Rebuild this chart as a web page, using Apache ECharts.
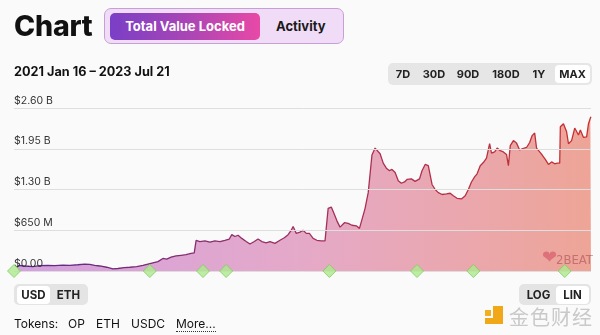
<!DOCTYPE html>
<html>
<head>
<meta charset="utf-8">
<script src="https://cdn.jsdelivr.net/npm/echarts@6/dist/echarts.min.js"></script>
<style>
  html, body { margin:0; padding:0; background:#fafafa; width:600px; height:335px; overflow:hidden; font-family: Inter, Roboto, "Noto Sans", sans-serif; }
  #chart { position:absolute; left:0; top:0; width:600px; height:335px; }
  .abs { position:absolute; }
  #title { left:14px; top:8px; font-size:28.5px; font-weight:800; color:#111; letter-spacing:-0.2px; }
  #pill { left:104px; top:8px; width:240px; height:36px; border:1px solid #c79fd6; border-radius:7px; background:#f1dcf8; box-sizing:border-box; }
  #tvl { left:110px; top:13px; width:150px; height:27px; border-radius:5px; background:linear-gradient(90deg,#7a3fc6,#a845b6 50%,#e849a6); color:#fff; font-size:13px; font-weight:700; text-align:center; line-height:27px; }
  #act { left:276px; top:13px; width:72px; height:27px; color:#1a1a1a; font-size:13px; font-weight:700; line-height:27px; }
  #range { left:14px; top:64px; font-size:12.7px; font-weight:700; color:#111; }
  #btns { left:388px; top:63px; width:204px; height:22px; border-radius:5px; background:#e6e6e6; }
  .b { position:absolute; top:0; height:22px; line-height:22px; font-size:11px; font-weight:700; color:#222; text-align:center; }
  .on { background:#fff; border-radius:4px; top:2px; height:18px; line-height:18px; }
  #cur { left:14px; top:284px; width:74px; height:21px; border-radius:5px; background:#e4e4e4; }
  #scale { left:519px; top:284px; width:72px; height:21px; border-radius:5px; background:#e4e4e4; }
  #tokens { left:14px; top:316px; font-size:12px; color:#111; white-space:nowrap; }
  #tokens span { position:absolute; top:0; }
  #more { border-bottom:1px dotted #333; }
  #logo { left:483px; top:304px; }
</style>
</head>
<body>
<div id="chart"></div>
<div class="abs" id="title">Chart</div>
<div class="abs" id="pill"></div>
<div class="abs" id="tvl">Total Value Locked</div>
<div class="abs" id="act">Activity</div>
<div class="abs" id="range">2021 Jan 16 – 2023 Jul 21</div>
<div class="abs" id="btns">
  <div class="b" style="left:4px;width:22px">7D</div>
  <div class="b" style="left:31px;width:30px">30D</div>
  <div class="b" style="left:65px;width:30px">90D</div>
  <div class="b" style="left:100px;width:36px">180D</div>
  <div class="b" style="left:140px;width:22px">1Y</div>
  <div class="b on" style="left:167px;width:35px">MAX</div>
</div>
<div class="abs" id="cur">
  <div class="b on" style="left:3px;width:33px;font-size:11.5px">USD</div>
  <div class="b" style="left:38px;width:33px;font-size:11.5px;top:0">ETH</div>
</div>
<div class="abs" id="scale">
  <div class="b" style="left:3px;width:33px;font-size:11.5px">LOG</div>
  <div class="b on" style="left:37px;width:33px;font-size:11.5px">LIN</div>
</div>
<div class="abs" id="tokens"><span style="left:0">Tokens:</span><span style="left:54px">OP</span><span style="left:82px">ETH</span><span style="left:117px">USDC</span><span id="more" style="left:162px">More...</span></div>
<div class="abs" id="logo">
  <svg width="110" height="28">
    <rect x="2" y="6" width="6" height="6" fill="#f0b020"/>
    <path d="M10 2 h10 v18 h-18 v-6 h8 z" fill="#f0a818"/>
    <text x="26" y="21" font-family="Noto Sans CJK SC" font-size="20" fill="#c9c9c9" letter-spacing="1">金色财经</text>
  </svg>
</div>
<script>
// days since 2021-01-16
const dayIndex = [0,11,24,35,48,59,72,83,96,107,115,123,131,142,152,160,170,179,190,200,208,216,224,232,238,245,253,261,269,277,282,285,291,299,307,315,323,331,338,342,347,352,358,365,371,378,384,390,397,403,411,419,426,432,437,440,445,451,456,461,466,472,478,485,491,494,496,501,506,510,515,522,528,534,541,546,550,555,560,563,566,571,574,579,584,589,594,598,603,608,613,618,622,629,635,642,646,651,656,659,662,667,672,678,685,691,696,702,709,715,720,725,730,734,739,744,749,754,757,762,766,771,776,781,784,787,792,797,802,806,813,818,822,826,829,834,838,843,848,853,858,862,866,867,872,877,880,885,890,893,896,899,904,909,912,915,916];
// TVL in billions USD
const tvlBillions = [0.09,0.08,0.07,0.085,0.09,0.085,0.095,0.09,0.10,0.11,0.105,0.09,0.08,0.06,0.035,0.04,0.055,0.06,0.07,0.09,0.11,0.13,0.15,0.20,0.19,0.22,0.24,0.25,0.26,0.28,0.29,0.49,0.47,0.48,0.46,0.48,0.47,0.49,0.51,0.58,0.55,0.57,0.52,0.47,0.43,0.47,0.51,0.47,0.45,0.47,0.44,0.49,0.53,0.58,0.65,0.71,0.60,0.62,0.65,0.60,0.60,0.52,0.49,0.48,0.48,0.49,1.00,1.02,0.90,0.80,0.70,0.77,0.76,0.73,0.72,0.68,0.82,1.00,1.25,1.55,1.85,1.96,1.97,1.87,1.72,1.64,1.60,1.62,1.57,1.44,1.40,1.42,1.46,1.47,1.43,1.47,1.60,1.70,1.68,1.65,1.38,1.30,1.25,1.22,1.23,1.24,1.20,1.16,1.15,1.20,1.30,1.42,1.50,1.55,1.68,1.73,1.80,2.03,1.88,1.90,1.96,1.92,1.90,1.86,1.68,2.00,2.08,2.04,1.93,1.95,1.97,2.05,2.16,2.20,1.96,1.90,1.85,1.78,1.70,1.74,1.71,1.72,1.72,2.30,2.35,2.22,2.03,2.08,2.28,2.25,2.17,2.25,2.13,2.14,2.35,2.44,2.46];
// milestone markers, days since 2021-01-16
const milestoneDays = [-6,211,296,333,498,638,728,874];
const yTicks = [0, 0.65, 1.30, 1.95, 2.60];
const yTickLabels = ['$0.00', '$650 M', '$1.30 B', '$1.95 B', '$2.60 B'];

const base = Date.UTC(2021, 0, 16);
const DAY = 86400000;
const lineData = dayIndex.map((d, i) => [base + d * DAY, tvlBillions[i]]);
const msData = milestoneDays.map(d => [base + d * DAY, 0]);

const chart = echarts.init(document.getElementById('chart'), null, {renderer: 'canvas'});
chart.setOption({
  backgroundColor: 'transparent',
  animation: false,
  grid: { left: 14, right: 9, top: 108, bottom: 64 },
  xAxis: {
    type: 'time',
    min: base - 6 * DAY,
    max: base + 916 * DAY,
    axisLine: { show: false }, axisTick: { show: false }, axisLabel: { show: false }, splitLine: { show: false }
  },
  yAxis: {
    type: 'value', min: 0, max: 2.6, interval: 0.65,
    axisLine: { show: false }, axisTick: { show: false },
    splitLine: { lineStyle: { color: '#dedede', width: 1 } },
    axisLabel: {
      inside: true, verticalAlign: 'bottom', margin: 0, padding: [0, 0, 2, 0],
      color: '#333', fontSize: 10.5, fontFamily: 'Inter, Roboto, sans-serif',
      formatter: v => { const i = yTicks.findIndex(t => Math.abs(t - v) < 1e-6); return i >= 0 ? yTickLabels[i] : ''; }
    },
    z: 5
  },
  graphic: [
    { type: 'text', left: 542, top: 249, z: 50, style: { text: '❤', fill: 'rgba(205,50,80,0.45)', font: '18px "DejaVu Sans", sans-serif' } },
    { type: 'text', left: 556, top: 254, z: 50, style: { text: '2BEAT', fill: 'rgba(140,30,50,0.40)', font: '13px "DejaVu Sans Condensed", "DejaVu Sans", sans-serif' } }
  ],
  series: [
    {
      type: 'line', data: lineData, symbol: 'none', smooth: false, z: 2,
      lineStyle: { width: 1.3, color: { type: 'linear', x: 0, y: 0, x2: 1, y2: 0, colorStops: [
        { offset: 0, color: '#5b2a86' }, { offset: 0.5, color: '#a0305e' }, { offset: 1, color: '#c8302e' } ] } },
      areaStyle: { color: { type: 'linear', x: 0, y: 0, x2: 1, y2: 0, colorStops: [
        { offset: 0, color: '#d3a0e0' }, { offset: 0.5, color: '#e5a9c8' }, { offset: 1, color: '#eea597' } ] }, opacity: 1 }
    },
    {
      type: 'scatter', data: msData, symbol: 'diamond', symbolSize: [13, 13], clip: false, z: 10,
      itemStyle: { color: '#aeea8f', borderColor: '#7fcd5c', borderWidth: 1 }
    }
  ]
});
</script>
</body>
</html>
